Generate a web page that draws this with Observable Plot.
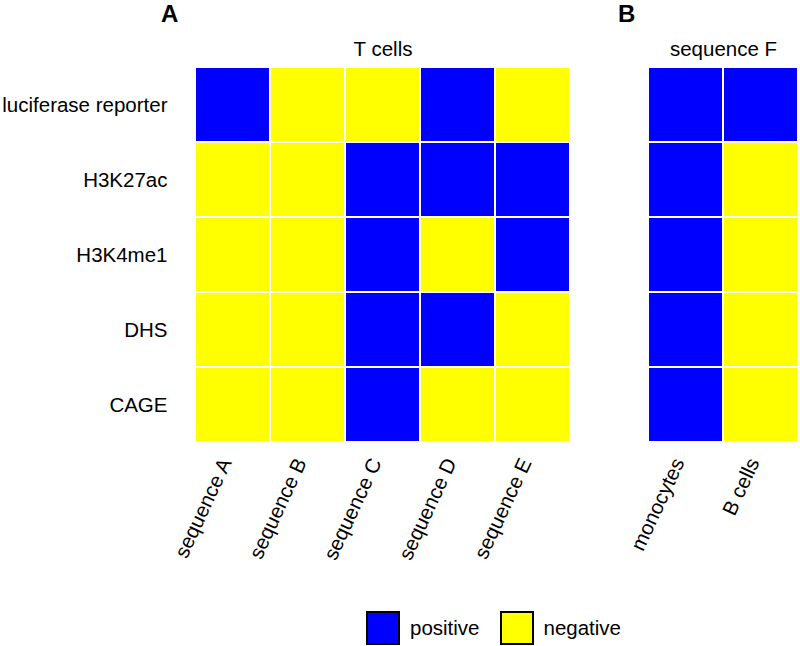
<!DOCTYPE html>
<html>
<head>
<meta charset="utf-8">
<script src="https://cdn.jsdelivr.net/npm/d3@7"></script>
<script src="https://cdn.jsdelivr.net/npm/@observablehq/plot@0.6"></script>
<style>
  html, body { margin: 0; padding: 0; background: #fff; }
  #wrap { position: relative; width: 800px; height: 646px; overflow: hidden; font-family: "Liberation Sans", Arial, Helvetica, sans-serif; }
  .panel { position: absolute; top: 0; }
  .panel text { font-size: 20.5px; }
  .tag { position: absolute; top: 2px; font-size: 24px; font-weight: bold; line-height: 24px; }
  #legend { position: absolute; top: 611px; left: 366px; display: flex; align-items: center; font-size: 20.5px; }
  .sw { width: 34px; height: 34px; border: 2px solid #000; box-sizing: border-box; display: inline-block; }
</style>
</head>
<body>
<div id="wrap"></div>
<script>
// ---- data ----
const rows = ["luciferase reporter", "H3K27ac", "H3K4me1", "DHS", "CAGE"];
const colsA = ["sequence A", "sequence B", "sequence C", "sequence D", "sequence E"];
const colsB = ["monocytes", "B cells"];
const valuesA = [ // 1 = positive, 0 = negative
  [1, 0, 0, 1, 0],
  [0, 0, 1, 1, 1],
  [0, 0, 1, 0, 1],
  [0, 0, 1, 1, 0],
  [0, 0, 1, 0, 0]
];
const valuesB = [
  [1, 1],
  [1, 0],
  [1, 0],
  [1, 0],
  [1, 0]
];
const titleA = "T cells";
const titleB = "sequence F";
const tagA = "A";
const tagB = "B";
const legendLabels = ["positive", "negative"];
const colors = ["#0000FF", "#FFFF00"];

// ---- build ----
function tidy(cols, vals) {
  const out = [];
  rows.forEach((r, i) => cols.forEach((c, j) => out.push({row: r, col: c, v: vals[i][j] ? "positive" : "negative"})));
  return out;
}

const font = '"Liberation Sans", Arial, Helvetica, sans-serif';

function panel(cols, vals, title, opts) {
  return Plot.plot({
    width: opts.width,
    height: 600,
    marginLeft: opts.marginLeft,
    marginRight: opts.marginRight,
    marginTop: 67,
    marginBottom: 158,
    style: {fontFamily: font, fontSize: "20.5px", color: "#000", background: "transparent", overflow: "visible"},
    x: {domain: cols, padding: 0, label: null, axis: null},
    y: {domain: rows, padding: 0, label: null, axis: null},
    color: {domain: legendLabels, range: colors},
    marks: [
      Plot.cell(tidy(cols, vals), {x: "col", y: "row", fill: "v", stroke: "white", strokeWidth: 2}),
      Plot.axisX({anchor: "bottom", tickSize: 0, tickPadding: 17, tickRotate: -65, dx: -7, label: null}),
      opts.showY ? Plot.axisY({anchor: "left", tickSize: 0, tickPadding: 28, label: null}) : null,
      Plot.text([title], {frameAnchor: "top", lineAnchor: "middle", dy: -18, fill: "black"})
    ]
  });
}

const wrap = document.getElementById("wrap");

const pA = panel(colsA, valuesA, titleA, {width: 575, marginLeft: 195, marginRight: 5, showY: true});
pA.classList.add("panel"); pA.style.left = "0px";
wrap.appendChild(pA);

const pB = panel(colsB, valuesB, titleB, {width: 225, marginLeft: 73, marginRight: 2, showY: false});
pB.classList.add("panel"); pB.style.left = "575px";
wrap.appendChild(pB);

[[tagA, 161], [tagB, 618]].forEach(([t, x]) => {
  const d = document.createElement("div");
  d.className = "tag"; d.textContent = t; d.style.left = x + "px";
  wrap.appendChild(d);
});

const leg = document.createElement("div");
leg.id = "legend";
legendLabels.forEach((l, i) => {
  const s = document.createElement("span");
  s.className = "sw"; s.style.background = colors[i];
  const t = document.createElement("span");
  t.textContent = l;
  t.style.marginLeft = "10px";
  t.style.marginRight = i === 0 ? "20px" : "0";
  leg.appendChild(s); leg.appendChild(t);
});
wrap.appendChild(leg);
</script>
</body>
</html>
